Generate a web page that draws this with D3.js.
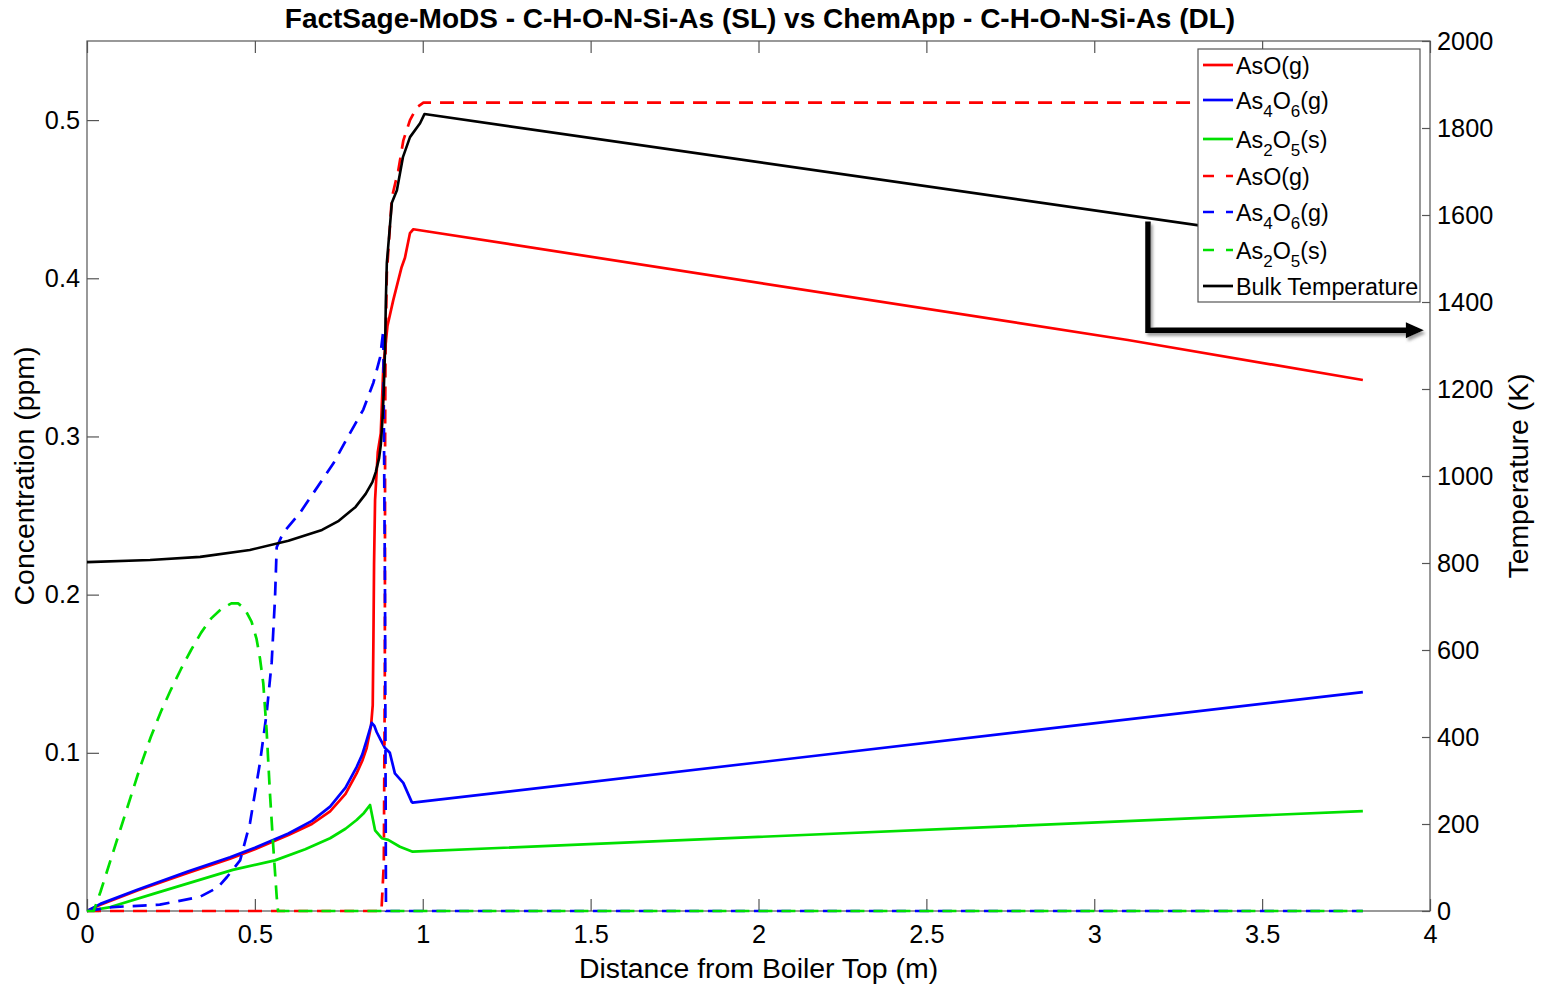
<!DOCTYPE html>
<html>
<head>
<meta charset="utf-8">
<script src="https://cdn.jsdelivr.net/npm/d3@7"></script>
<style>
  body{margin:0;background:#fff;}
  text{font-family:"Liberation Sans", Arial, sans-serif; fill:#000;}
</style>
</head>
<body>
<svg id="chart" width="1543" height="988"></svg>
<script>
// ---- data ----
const xTickVals = [0, 0.5, 1, 1.5, 2, 2.5, 3, 3.5, 4];
const concTicks = [0, 0.1, 0.2, 0.3, 0.4, 0.5];
const tempTicks = [0, 200, 400, 600, 800, 1000, 1200, 1400, 1600, 1800, 2000];

// FactSage-MoDS (SL), concentration in ppm vs distance in m
const asoSL = [[0,0],[0.04,0.004],[0.15,0.013],[0.3,0.024],[0.426,0.033],[0.5,0.039],[0.6,0.048],
  [0.67,0.055],[0.724,0.063],[0.77,0.074],[0.803,0.087],[0.82,0.095],[0.833,0.103],[0.846,0.117],
  [0.851,0.13],[0.853,0.17],[0.855,0.22],[0.858,0.26],[0.866,0.29],[0.875,0.302],[0.8825,0.344],
  [0.895,0.37],[0.912,0.386],[0.937,0.407],[0.947,0.413],[0.962,0.4286],[0.972,0.431],[3.1,0.361],[3.8,0.3357]];
const as4o6SL = [[0,0],[0.04,0.0045],[0.15,0.0135],[0.3,0.025],[0.426,0.034],[0.5,0.040],[0.6,0.049],
  [0.67,0.057],[0.724,0.066],[0.77,0.078],[0.803,0.091],[0.82,0.099],[0.833,0.108],[0.848,0.119],
  [0.856,0.117],[0.863,0.113],[0.875,0.108],[0.8876,0.103],[0.902,0.1],[0.917,0.087],[0.942,0.081],
  [0.967,0.069],[0.97,0.0685],[3.8,0.1384]];
const as2o5SL = [[0,0],[0.07,0.0025],[0.2,0.011],[0.434,0.026],[0.56,0.032],[0.65,0.039],[0.724,0.046],
  [0.77,0.052],[0.803,0.0575],[0.825,0.062],[0.843,0.067],[0.858,0.051],[0.878,0.046],[0.897,0.045],
  [0.932,0.0406],[0.97,0.0375],[3.8,0.0632]];

// ChemApp (DL)
const asoDL = [[0,0],[0.877,0],[0.884,0.03],[0.887,0.15],[0.888,0.306],[0.889,0.35],[0.893,0.403],
  [0.908,0.451],[0.927,0.468],[0.942,0.487],[0.962,0.5],[0.982,0.508],[1.002,0.511],[3.8,0.511]];
const as4o6DL = [[0,0],[0.077,0.0025],[0.217,0.004],[0.337,0.009],[0.39,0.015],[0.417,0.0215],[0.456,0.032],
  [0.4855,0.0556],[0.515,0.0935],[0.535,0.125],[0.55,0.157],[0.56,0.198],[0.565,0.23],[0.584,0.239],
  [0.634,0.2516],[0.734,0.283],[0.783,0.302],[0.823,0.317],[0.853,0.334],[0.873,0.35],[0.8825,0.367],
  [0.8876,0.2],[0.8905,0],[3.8,0]];
const as2o5DL = [[0,0],[0.02,0],[0.04,0.012],[0.07,0.032],[0.1,0.052],[0.13,0.072],[0.16,0.092],
  [0.19,0.11],[0.22,0.126],[0.25,0.14],[0.28,0.153],[0.31,0.165],[0.34,0.176],[0.37,0.185],[0.4,0.191],
  [0.43,0.1945],[0.45,0.1945],[0.47,0.191],[0.49,0.183],[0.505,0.172],[0.515,0.16],[0.525,0.144],
  [0.535,0.114],[0.545,0.074],[0.555,0.04],[0.565,0.009],[0.569,0],[3.8,0]];

// bulk temperature in K (right axis)
const bulkT = [[0,802],[0.188,807],[0.337,814],[0.485,830],[0.6,851],[0.7,876],[0.75,897],[0.8,929],
  [0.83,959],[0.85,986],[0.86,1009],[0.87,1041],[0.875,1071],[0.88,1129],[0.884,1198],[0.888,1300],
  [0.89,1400],[0.893,1490],[0.908,1628],[0.923,1657],[0.941,1733],[0.962,1779],[0.992,1811],
  [1.005,1832],[3.8,1522]];

// annotation arrow: from the temperature curve to the right axis (x in m, y in K)
const arrowPts = [[3.16,1585],[3.16,1335],[3.94,1335]];

// ---- layout ----
const svg = d3.select("#chart");
const plotL = 87, plotR = 1430, plotT = 41, plotB = 911;
const axisColor = "#555";

const x = d3.scaleLinear().domain([0, 4]).range([plotL, plotR]);
const yC = d3.scaleLinear().domain([0, 0.55]).range([plotB, plotT]);
const yT = d3.scaleLinear().domain([0, 2000]).range([plotB, plotT]);

svg.append("rect").attr("width", 1543).attr("height", 988).attr("fill", "#fff");

const defs = svg.append("defs");
defs.append("clipPath").attr("id", "plotClip")
  .append("rect").attr("x", plotL).attr("y", plotT - 2).attr("width", plotR - plotL).attr("height", plotB - plotT + 4);

// box
svg.append("rect")
  .attr("x", plotL).attr("y", plotT).attr("width", plotR - plotL).attr("height", plotB - plotT)
  .attr("fill", "none").attr("stroke", axisColor).attr("stroke-width", 1.2);

function styleAxis(g){
  g.select(".domain").remove();
  g.selectAll(".tick line").attr("stroke", axisColor).attr("stroke-width", 1.2);
  g.selectAll(".tick text").attr("fill", "#000").style("font-size", "25.3px")
    .style("font-family", '"Liberation Sans", Arial, sans-serif');
}

// bottom + top (mirror) ticks
svg.append("g").attr("transform", `translate(0,${plotB})`)
  .call(d3.axisBottom(x).tickValues(xTickVals).tickFormat(d => d).tickSizeInner(-12).tickSizeOuter(0).tickPadding(14))
  .call(styleAxis);
svg.append("g").attr("transform", `translate(0,${plotT})`)
  .call(d3.axisTop(x).tickValues(xTickVals).tickFormat("").tickSizeInner(-12).tickSizeOuter(0))
  .call(styleAxis);

// left axis
svg.append("g").attr("transform", `translate(${plotL},0)`)
  .call(d3.axisLeft(yC).tickValues(concTicks).tickFormat(d => d).tickSizeInner(-12).tickSizeOuter(0).tickPadding(7))
  .call(styleAxis);

// right axis
svg.append("g").attr("transform", `translate(${plotR},0)`)
  .call(d3.axisRight(yT).tickValues(tempTicks).tickFormat(d => d).tickSizeInner(-8).tickSizeOuter(0).tickPadding(7))
  .call(styleAxis);

// ---- lines ----
const plot = svg.append("g").attr("clip-path", "url(#plotClip)");
const lineC = d3.line().x(d => x(d[0])).y(d => yC(d[1]));
const lineT = d3.line().x(d => x(d[0])).y(d => yT(d[1]));

const series = [
  {data: asoSL, color: "#ff0000", dash: null},
  {data: as4o6SL, color: "#0000ff", dash: null},
  {data: as2o5SL, color: "#00e000", dash: null},
  {data: asoDL, color: "#ff0000", dash: "14,9"},
  {data: as4o6DL, color: "#0000ff", dash: "14,9"},
  {data: as2o5DL, color: "#00e000", dash: "14,9"}
];

series.forEach(s => {
  plot.append("path")
    .attr("d", lineC(s.data))
    .attr("fill", "none")
    .attr("stroke", s.color)
    .attr("stroke-width", 2.7)
    .attr("stroke-linejoin", "round")
    .attr("stroke-dasharray", s.dash);
});

plot.append("path")
  .attr("d", lineT(bulkT))
  .attr("fill", "none")
  .attr("stroke", "#000")
  .attr("stroke-width", 2.6)
  .attr("stroke-linejoin", "round");

// ---- legend ----
const legendLabels = [
  [["AsO(g)", 0]],
  [["As", 0], ["4", 1], ["O", 0], ["6", 1], ["(g)", 0]],
  [["As", 0], ["2", 1], ["O", 0], ["5", 1], ["(s)", 0]],
  [["AsO(g)", 0]],
  [["As", 0], ["4", 1], ["O", 0], ["6", 1], ["(g)", 0]],
  [["As", 0], ["2", 1], ["O", 0], ["5", 1], ["(s)", 0]],
  [["Bulk Temperature", 0]]
];
const legendColors = ["#ff0000", "#0000ff", "#00e000", "#ff0000", "#0000ff", "#00e000", "#000"];
const legendDashed = [false, false, false, true, true, true, false];
const legendRowY = [65, 100, 139, 176, 212, 250, 286];

const lg = svg.append("g");
lg.append("rect").attr("x", 1198).attr("y", 49).attr("width", 222).attr("height", 253)
  .attr("fill", "#fff").attr("stroke", axisColor).attr("stroke-width", 1.2);

legendLabels.forEach((parts, i) => {
  const yy = legendRowY[i];
  lg.append("line")
    .attr("x1", 1203).attr("x2", 1233).attr("y1", yy).attr("y2", yy)
    .attr("stroke", legendColors[i]).attr("stroke-width", 2.7)
    .attr("stroke-dasharray", legendDashed[i] ? "11,12" : null);
  const t = lg.append("text").attr("x", 1236).attr("y", yy + 9).style("font-size", "23.3px");
  let shifted = false;
  parts.forEach(p => {
    const sub = p[1] === 1;
    let dy = 0;
    if (sub && !shifted) { dy = 8; shifted = true; }
    else if (!sub && shifted) { dy = -8; shifted = false; }
    t.append("tspan").attr("dy", dy).style("font-size", sub ? "17px" : "23.3px").text(p[0]);
  });
});

// ---- annotation arrow ----
const shadow = defs.append("filter").attr("id", "arrowShadow")
  .attr("x", "-10%").attr("y", "-10%").attr("width", "130%").attr("height", "140%");
shadow.append("feDropShadow").attr("dx", 2).attr("dy", 3).attr("stdDeviation", 1.5)
  .attr("flood-color", "#888").attr("flood-opacity", 0.8);

const ag = svg.append("g").attr("filter", "url(#arrowShadow)");
const arrowLine = d3.line().x(d => x(d[0])).y(d => yT(d[1]));
ag.append("path").attr("d", arrowLine(arrowPts))
  .attr("fill", "none").attr("stroke", "#000").attr("stroke-width", 5.5).attr("stroke-linejoin", "miter");
const tip = arrowPts[arrowPts.length - 1];
const tx = x(tip[0]), ty = yT(tip[1]);
ag.append("path")
  .attr("d", `M${tx - 4},${ty - 8}L${tx + 14},${ty}L${tx - 4},${ty + 8}Z`)
  .attr("fill", "#000");

// ---- titles ----
svg.append("text").attr("x", 760).attr("y", 28).attr("text-anchor", "middle")
  .style("font-size", "28px").style("font-weight", "bold")
  .text("FactSage-MoDS - C-H-O-N-Si-As (SL) vs ChemApp - C-H-O-N-Si-As (DL)");

svg.append("text").attr("x", (plotL + plotR) / 2).attr("y", 978).attr("text-anchor", "middle")
  .style("font-size", "28.4px").text("Distance from Boiler Top (m)");

svg.append("text").attr("transform", `translate(34,${(plotT + plotB) / 2}) rotate(-90)`)
  .attr("text-anchor", "middle").style("font-size", "28.4px").text("Concentration (ppm)");

svg.append("text").attr("transform", `translate(1528,${(plotT + plotB) / 2}) rotate(-90)`)
  .attr("text-anchor", "middle").style("font-size", "28.4px").text("Temperature (K)");
</script>
</body>
</html>
